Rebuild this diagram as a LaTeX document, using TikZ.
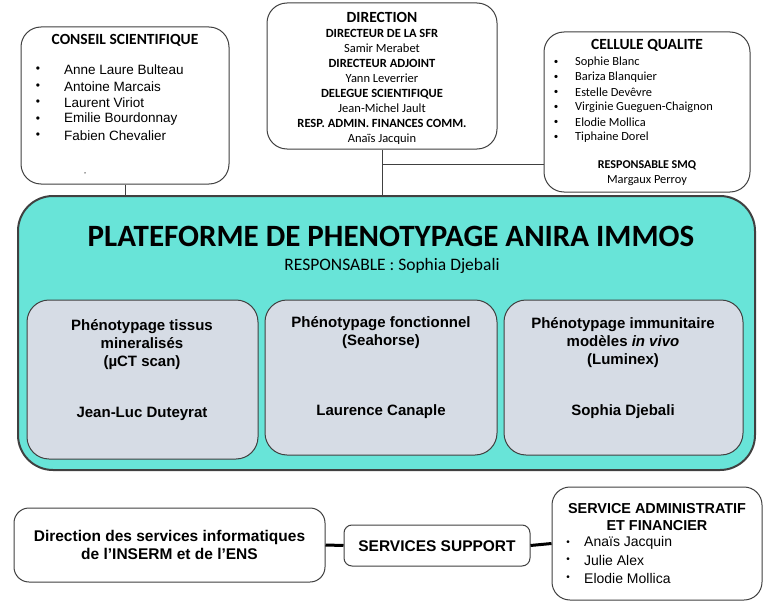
\documentclass[tikz,border=0pt]{standalone}
\usepackage{fontspec}
\setmainfont{Carlito}
\newfontfamily\arialfont{Liberation Sans}
\definecolor{platfill}{RGB}{104,228,216}
\definecolor{subfill}{RGB}{214,220,229}
\definecolor{edge}{RGB}{64,64,64}

\begin{document}
\begin{tikzpicture}
[x=1pt,y=-1pt,
 box/.style={draw=edge, line width=1pt, fill=white, rounded corners=20pt, inner sep=0pt},
 subbox/.style={box, fill=subfill, rounded corners=22pt},
 lbl/.style={inner sep=0pt},
 boldarial/.style={lbl, font=\arialfont\bfseries\fontsize{15}{18}\selectfont},
 link/.style={draw=edge, line width=1pt}]
\useasboundingbox (0,0) rectangle (769,602);
%top boxes
\node[box, minimum width=208pt, minimum height=157pt] (conseil) at (125,105.5) {};
\node[box, minimum width=230pt, minimum height=146pt] (direction) at (382,76) {};
\node[box, minimum width=206pt, minimum height=160pt] (cellule) at (647,112) {};
%platform
\node[box, fill=platfill, line width=2pt, rounded corners=35pt, minimum width=737pt, minimum height=274pt] (plat) at (386.5,333) {};
\node[subbox, minimum width=231pt, minimum height=159pt] (tissus) at (142.5,379.5) {};
\node[subbox, minimum width=232pt, minimum height=155pt] (fonction) at (381,377.5) {};
\node[subbox, minimum width=239pt, minimum height=155pt] (immuno) at (623.5,377.5) {};
%bottom boxes
\node[box, rounded corners=15pt, minimum width=311pt, minimum height=74pt] (dsi) at (169.5,545) {};
\node[box, rounded corners=8pt, minimum width=186pt, minimum height=41pt] (support) at (437,545.5) {};
\node[box, rounded corners=18pt, minimum width=210pt, minimum height=113pt] (saf) at (657,543.5) {};

%connectors
\draw[link] (conseil.south) -- (conseil.south |- plat.north);
\draw[link] (direction.south) -- (direction.south |- plat.north);
\coordinate (tap) at (382,164);
\draw[link] (tap) -- (tap -| cellule.west);
\draw[draw=black, line width=3pt] (dsi.east) -- (support.west);
\draw[draw=black, line width=3pt] (support.east) -- (saf.west);

%conseil scientifique
\node[lbl, font=\bfseries\fontsize{15.5}{17}\selectfont] (cstitle) at (125,40) {CONSEIL SCIENTIFIQUE};
\foreach \who [count=\i] in {Anne Laure Bulteau, Antoine Marcais, Laurent Viriot, Emilie Bourdonnay, Fabien Chevalier}
{
  \node[lbl, font=\arialfont\fontsize{12}{14}\selectfont] (csb\i) at (38,70+16.5*\i-16.5) {•};
  \node[lbl, anchor=west, font=\arialfont\fontsize{13.5}{15}\selectfont] (cs\i) at (64,70+16.5*\i-16.5) {\who};
}
\node[lbl, font=\fontsize{8}{9}\selectfont] (csdot) at (85,174) {,};

%direction
\node[lbl, align=center, font=\fontsize{12.5}{15}\selectfont] (dirtxt) at (382,78.5)
  {{\bfseries\fontsize{15.5}{16}\selectfont DIRECTION}\\
   \textbf{DIRECTEUR DE LA SFR}\\ Samir Merabet\\
   \textbf{DIRECTEUR ADJOINT}\\ Yann Leverrier\\
   \textbf{DELEGUE SCIENTIFIQUE}\\ Jean-Michel Jault\\
   \textbf{RESP. ADMIN. FINANCES COMM.}\\ Anaïs Jacquin};

%cellule qualite
\node[lbl, font=\bfseries\fontsize{15.5}{17}\selectfont] (cqtitle) at (647,45) {CELLULE QUALITE};
\foreach \who [count=\i] in {Sophie Blanc, Bariza Blanquier, Estelle Devêvre, Virginie Gueguen-Chaignon, Elodie Mollica, Tiphaine Dorel}
{
  \node[lbl, font=\fontsize{9}{11}\selectfont] (cqb\i) at (556,62+15*\i-15) {•};
  \node[lbl, anchor=west, font=\fontsize{12.4}{14}\selectfont] (cq\i) at (575,62+15*\i-15) {\who};
}
\node[lbl, font=\bfseries\fontsize{12}{14}\selectfont] (smq) at (647,165) {RESPONSABLE SMQ};
\node[lbl, font=\fontsize{12.4}{14}\selectfont] (smqname) at (647,181) {Margaux Perroy};

%plateforme
\node[lbl, font=\bfseries\fontsize{31}{34}\selectfont] (plattitle) at (391,236) {PLATEFORME DE PHENOTYPAGE ANIRA IMMOS};
\node[lbl, font=\fontsize{17.5}{19}\selectfont] (platresp) at (392,266) {RESPONSABLE : Sophia Djebali};
\node[boldarial, align=center] (tissustxt) at (142,345)
  {Phénotypage tissus\\ mineralisés\\ (µCT scan)};
\node[boldarial] (tissusname) at (142,414) {Jean-Luc Duteyrat};
\node[boldarial, align=center] (fonctiontxt) at (381,333)
  {Phénotypage fonctionnel\\ (Seahorse)};
\node[boldarial] (fonctionname) at (381,412) {Laurence Canaple};
\node[boldarial, align=center] (immunotxt) at (623,343)
  {Phénotypage immunitaire\\ modèles \textit{in vivo}\\ (Luminex)};
\node[boldarial] (immunoname) at (623,412) {Sophia Djebali};

%services
\node[boldarial, align=center, font=\arialfont\bfseries\fontsize{15.5}{18}\selectfont] (dsitxt) at (169.5,545)
  {Direction des services informatiques\\ de l’INSERM et de l’ENS};
\node[boldarial, font=\arialfont\bfseries\fontsize{15.5}{18}\selectfont] (supporttxt) at (437,546) {SERVICES SUPPORT};
\node[boldarial, align=center, font=\arialfont\bfseries\fontsize{14.4}{17}\selectfont] (saftitle) at (657,517)
  {SERVICE ADMINISTRATIF\\ ET FINANCIER};
\foreach \who [count=\i] in {Anaïs Jacquin, Julie Alex, Elodie Mollica}
{
  \node[lbl, font=\arialfont\fontsize{10}{12}\selectfont] (safb\i) at (568,543+17.5*\i-17.5) {•};
  \node[lbl, anchor=west, font=\arialfont\fontsize{14}{16}\selectfont] (saf\i) at (584,543+17.5*\i-17.5) {\who};
}
\end{tikzpicture}
\end{document}
